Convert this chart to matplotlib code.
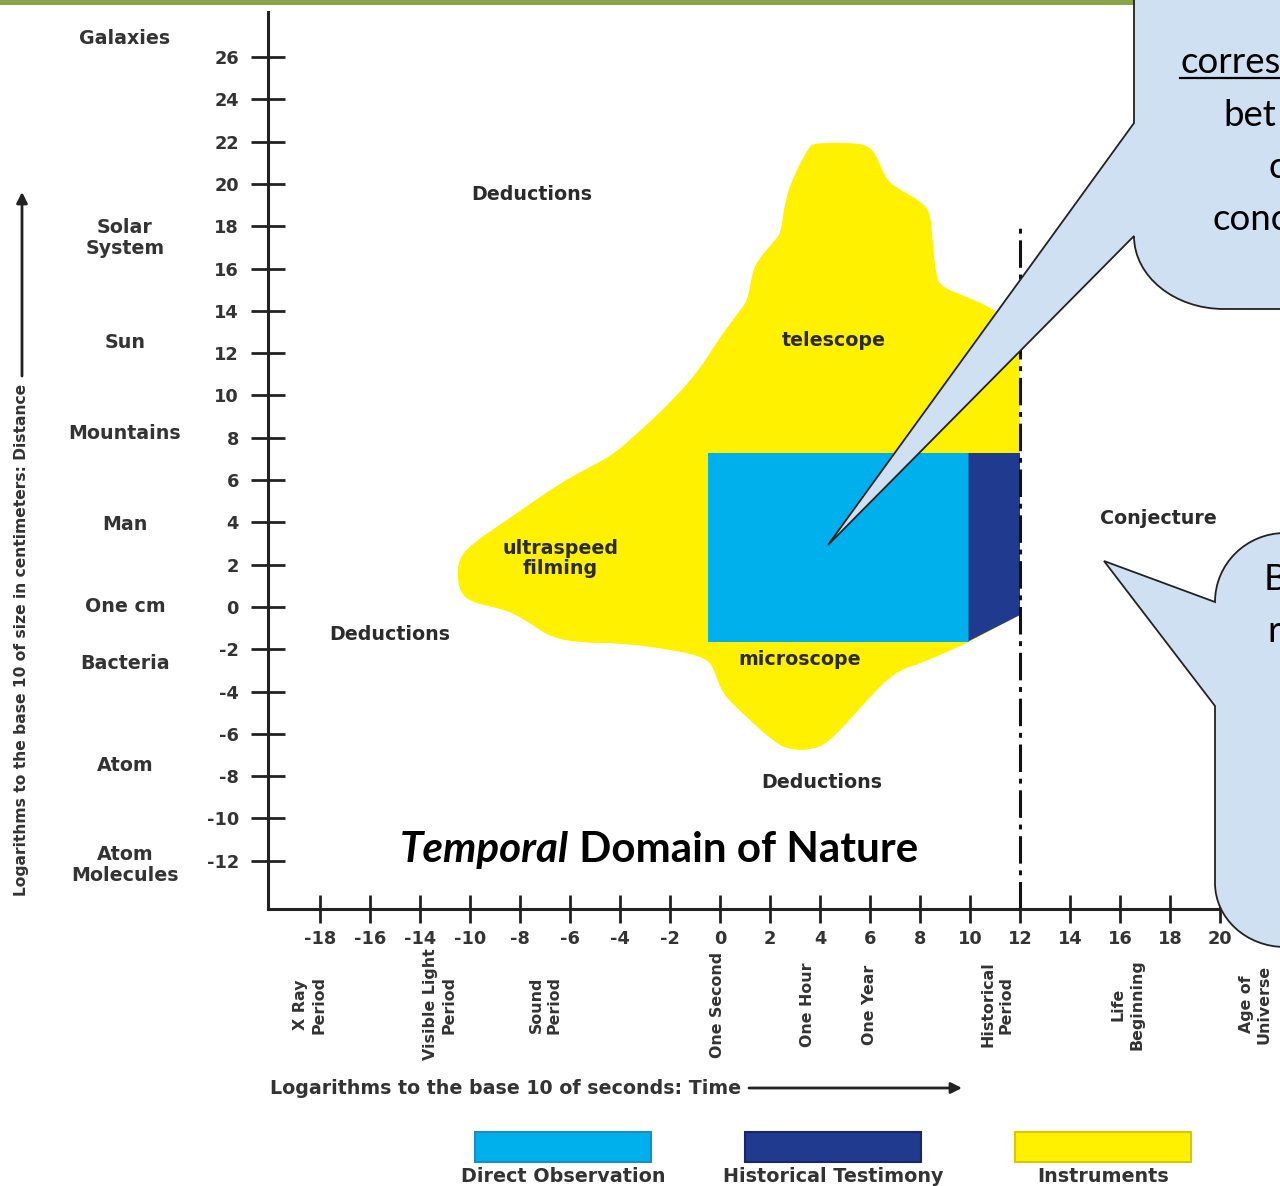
import matplotlib
matplotlib.use("Agg")
import matplotlib.pyplot as plt
from matplotlib.path import Path
from matplotlib.patches import PathPatch, Rectangle

plt.rcParams['font.family'] = ['DejaVu Sans']
plt.rcParams['font.weight'] = 'bold'

# ---------------- data ----------------
size_ticks = [-12, -10, -8, -6, -4, -2, 0, 2, 4, 6, 8, 10, 12, 14, 16, 18, 20, 22, 24, 26]
time_tick_pos = [-16, -14, -12, -10, -8, -6, -4, -2, 0, 2, 4, 6, 8, 10, 12, 14, 16, 18, 20]
time_tick_labels = ['-18', '-16', '-14', '-10', '-8', '-6', '-4', '-2', '0', '2', '4',
                    '6', '8', '10', '12', '14', '16', '18', '20']

size_objects = ['Galaxies', 'Solar\nSystem', 'Sun', 'Mountains', 'Man', 'One cm',
                'Bacteria', 'Atom', 'Atom\nMolecules']
size_object_values = [26.9, 17.45, 12.5, 8.2, 3.9, 0.0, -2.65, -7.5, -12.2]

time_events = ['X Ray\nPeriod', 'Visible Light\nPeriod', 'Sound\nPeriod', 'One Second',
               'One Hour', 'One Year', 'Historical\nPeriod', 'Life\nBeginning', 'Age of\nUniverse']
time_event_values = [-16.4, -11.2, -7.0, -0.1, 3.5, 6.0, 11.1, 16.3, 21.4]

# Instruments region outline (time, size)
instruments_time = [3.80, 5.48, 6.00, 6.28, 6.60, 6.92, 8.08, 8.40, 8.48, 8.64, 8.88, 9.84,
                    10.84, 12.00, 12.00, 9.88, 8.24, 6.92, 5.44, 4.32, 3.64, 2.84, 2.20, 0.88,
                    0.08, -0.20, -0.52, -1.88, -4.00, -5.60, -6.80, -7.60, -8.52, -9.88, -10.40,
                    -10.52, -10.40, -9.88, -8.52, -6.40, -5.20, -4.28, -3.20, -1.88, -0.80, -0.08,
                    0.72, 1.12, 1.28, 1.52, 2.20, 2.44, 2.60, 3.00, 3.56]
instruments_size = [21.94, 21.94, 21.75, 21.28, 20.33, 19.91, 19.15, 18.63, 17.68, 15.60, 15.13,
                    14.66, 14.18, 13.19, -0.38, -1.70, -2.60, -3.07, -5.01, -6.43, -6.76, -6.76,
                    -6.43, -5.01, -4.07, -3.07, -2.41, -2.03, -1.70, -1.70, -1.42, -0.76, -0.14,
                    0.19, 0.66, 1.61, 2.36, 3.03, 4.11, 5.86, 6.62, 7.19, 8.32, 9.79, 11.25,
                    12.62, 13.90, 14.52, 15.79, 16.41, 17.35, 17.68, 19.24, 20.52, 21.75]
instruments_sharp = [13, 14, 15]   # outline corners that are not rounded

direct_time = [-0.48, 9.94]
direct_size = [-1.65, 7.28]

historical_time = [9.94, 12.0, 12.0, 9.94]
historical_size = [7.28, 7.28, -0.38, -1.62]

historical_limit = 12.0
historical_limit_top = 17.9

region_labels = ['Deductions', 'telescope', 'ultraspeed\nfilming', 'Deductions',
                 'microscope', 'Deductions', 'Conjecture']
region_time = [-7.52, 4.56, -6.4, -13.2, 3.2, 4.08, 17.52]
region_size = [19.5, 12.58, 2.3, -1.28, -2.5, -8.32, 4.16]

title_italic = 'Temporal'
title_rest = ' Domain of Nature'

series_names = ['Direct Observation', 'Historical Testimony', 'Instruments']
series_colors = ['#00B0EC', '#1F3A8E', '#FFF100']
series_edges = ['#1C8CC4', '#17286A', '#D9C800']

callout1_lines = ['corres', 'bet', 'c', 'conc']
callout2_lines = ['B', 'r']

# ---------------- figure ----------------
W, H = 1280, 1186
fig = plt.figure(figsize=(W / 100, H / 100), dpi=100, facecolor='white')
ax = fig.add_axes([268 / W, (H - 909) / H, (W - 268) / W, (909 - 12) / H])
ax.set_xlim(-18.08, 22.4)
ax.set_ylim(-14.28, 28.13)
for s in ['top', 'right']:
    ax.spines[s].set_visible(False)
for s in ['left', 'bottom']:
    ax.spines[s].set_linewidth(2.2)
    ax.spines[s].set_color('#222222')
    ax.spines[s].set_zorder(6)

ax.set_yticks(size_ticks)
ax.set_yticklabels([str(v) for v in size_ticks])
ax.set_xticks(time_tick_pos)
ax.set_xticklabels(time_tick_labels)
ax.tick_params(axis='y', direction='inout', length=24, width=2, color='#222222',
               pad=9, labelsize=11, labelcolor='#333333')
ax.tick_params(axis='x', direction='inout', length=20, width=2, color='#222222',
               pad=5, labelsize=11, labelcolor='#333333')


# smooth outline: each non-sharp vertex acts as a quadratic Bezier control point
def smooth_outline(xs, ys, sharp):
    pts = list(zip(xs, ys))
    n = len(pts)
    verts, codes = [], []

    def mid(a, b):
        return ((a[0] + b[0]) / 2, (a[1] + b[1]) / 2)

    for i in range(n):
        p, prv, nxt = pts[i], pts[i - 1], pts[(i + 1) % n]
        if i in sharp:
            verts.append(p)
            codes.append(Path.MOVETO if not verts[:-1] else Path.LINETO)
        else:
            start = p if False else (prv if (i - 1) % n in sharp else mid(prv, p))
            end = nxt if (i + 1) % n in sharp else mid(p, nxt)
            verts.append(start)
            codes.append(Path.MOVETO if not verts[:-1] else Path.LINETO)
            verts += [p, end]
            codes += [Path.CURVE3, Path.CURVE3]
    verts.append(verts[0])
    codes.append(Path.CLOSEPOLY)
    return Path(verts, codes)


ax.add_patch(PathPatch(smooth_outline(instruments_time, instruments_size, instruments_sharp),
                       facecolor=series_colors[2], lw=0, zorder=1))
ax.fill([direct_time[0], direct_time[1], direct_time[1], direct_time[0]],
        [direct_size[0], direct_size[0], direct_size[1], direct_size[1]],
        color=series_colors[0], lw=0, zorder=2)
ax.fill(historical_time, historical_size, color=series_colors[1], lw=0, zorder=2)
ax.vlines(historical_limit, ax.get_ylim()[0], historical_limit_top, colors='#111111',
          linewidth=2.2, linestyles=(0, (9, 2.2, 1.6, 2.2)), zorder=4)

label_texts = []
for lab, x, y in zip(region_labels, region_time, region_size):
    t = ax.text(x, y, lab, ha='center', va='center', color='#2b2b2b', fontsize=11,
                linespacing=1.1, zorder=5)
    label_texts.append(t)

cat_texts = []
for lab, y in zip(size_objects, size_object_values):
    t = ax.text(-23.8, y, lab, ha='center', va='center', color='#333333', fontsize=11,
                linespacing=1.1, clip_on=False)
    cat_texts.append(t)

event_texts = []
for lab, x in zip(time_events, time_event_values):
    t = ax.text(x, -18.8, lab, ha='center', va='center', rotation=90, color='#333333',
                fontsize=11, linespacing=1.25, multialignment='center', clip_on=False)
    event_texts.append(t)

t_it = ax.text(-12.8, -11.5, title_italic, ha='left', va='center', fontsize=26,
               family='Lato', fontweight='bold', style='italic', color='black', zorder=5)
t_rest = ax.annotate(title_rest, xy=(1, 0.5), xycoords=t_it, ha='left', va='center',
                     fontsize=26, family='Lato', fontweight='bold', color='black', zorder=5)

# ---------------- overlay (pixel coordinates) ----------------
ov = fig.add_axes([0, 0, 1, 1], zorder=10)
ov.set_xlim(0, W)
ov.set_ylim(H, 0)
ov.axis('off')
ov.patch.set_visible(False)

ov.add_patch(Rectangle((0, 0), 1134, 5, color='#8AA548', lw=0))

ylab = ov.text(22, 640, 'Logarithms to the base 10 of size in centimeters: Distance',
               rotation=90, ha='center', va='center', fontsize=10, color='#333333')
ov.annotate('', xy=(22, 192), xytext=(22, 376),
            arrowprops=dict(arrowstyle='-|>', lw=2.0, color='#222222', mutation_scale=16,
                            shrinkA=0, shrinkB=0))
xlab = ov.text(270, 1088, 'Logarithms to the base 10 of seconds: Time', ha='left',
               va='center', fontsize=11, color='#333333')
ov.annotate('', xy=(962, 1088), xytext=(749, 1088),
            arrowprops=dict(arrowstyle='-|>', lw=2.0, color='#222222', mutation_scale=16,
                            shrinkA=0, shrinkB=0))

# legend
leg_texts = []
for name, c, ec, cx in zip(series_names, series_colors, series_edges, [563, 833, 1103]):
    ov.add_patch(Rectangle((cx - 88, 1132), 176, 30, facecolor=c, edgecolor=ec, lw=1.5))
    t = ov.text(cx, 1176, name, ha='center', va='center', fontsize=11, color='#333333')
    leg_texts.append(t)

# callouts
k = 0.5523
fill_c = '#CFE0F3'
v1 = [(1134, -10), (1134, 123), (828, 545), (1134, 236),
      (1134, 236 + k * 73), (1224 - k * 90, 309), (1224, 309),
      (1295, 309), (1295, -10), (1134, -10)]
c1 = [Path.MOVETO, Path.LINETO, Path.LINETO, Path.LINETO,
      Path.CURVE4, Path.CURVE4, Path.CURVE4,
      Path.LINETO, Path.LINETO, Path.CLOSEPOLY]
ov.add_patch(PathPatch(Path(v1, c1), facecolor=fill_c, edgecolor='#222222', lw=1.3))

v2 = [(1215, 706), (1215, 883), (1215, 883 + k * 64), (1285 - k * 70, 947), (1285, 947),
      (1300, 947), (1300, 533), (1285, 533),
      (1285 - k * 70, 533), (1215, 602 - k * 69), (1215, 602),
      (1104, 561), (1215, 706)]
c2 = [Path.MOVETO, Path.LINETO, Path.CURVE4, Path.CURVE4, Path.CURVE4,
      Path.LINETO, Path.LINETO, Path.LINETO,
      Path.CURVE4, Path.CURVE4, Path.CURVE4,
      Path.LINETO, Path.CLOSEPOLY]
ov.add_patch(PathPatch(Path(v2, c2), facecolor=fill_c, edgecolor='#222222', lw=1.3))

call_texts = []
for s, x, y in zip(callout1_lines, [1180, 1223, 1268, 1213], [73, 126, 178, 230]):
    t = ov.text(x, y, s, ha='left', va='baseline', fontsize=26, family='Lato',
                fontweight='normal', color='black')
    call_texts.append(t)
for s, x, y in zip(callout2_lines, [1264, 1267], [590, 642]):
    t = ov.text(x, y, s, ha='left', va='baseline', fontsize=26, family='Lato',
                fontweight='normal', color='black')
    call_texts.append(t)
ov.plot([1180, 1282], [78, 78], color='black', lw=1.6)

# ---------------- fit font sizes to measured widths ----------------
fig.canvas.draw()
rend = fig.canvas.get_renderer()


def ext(t, vertical=False):
    bb = t.get_window_extent(rend)
    return bb.height if vertical else bb.width


def fit(ref, target, group, vertical=False):
    f = target / ext(ref, vertical)
    for t in group:
        t.set_fontsize(t.get_fontsize() * f)


fit(label_texts[0], 120, label_texts + cat_texts)
fit(event_texts[1], 110, event_texts, vertical=True)
fit(ylab, 514, [ylab], vertical=True)
fit(xlab, 469, [xlab])
fit(leg_texts[1], 219, leg_texts)
fit(call_texts[0], 100, call_texts)
tw = ext(t_it) + ext(t_rest)
f = 518 / tw
t_it.set_fontsize(t_it.get_fontsize() * f)
t_rest.set_fontsize(t_rest.get_fontsize() * f)
ref_tick = ax.get_yticklabels()[0]
ft = 32 / ext(ref_tick)
ax.tick_params(axis='both', labelsize=11 * ft)

fig.savefig('out.png', dpi=100, facecolor='white')
